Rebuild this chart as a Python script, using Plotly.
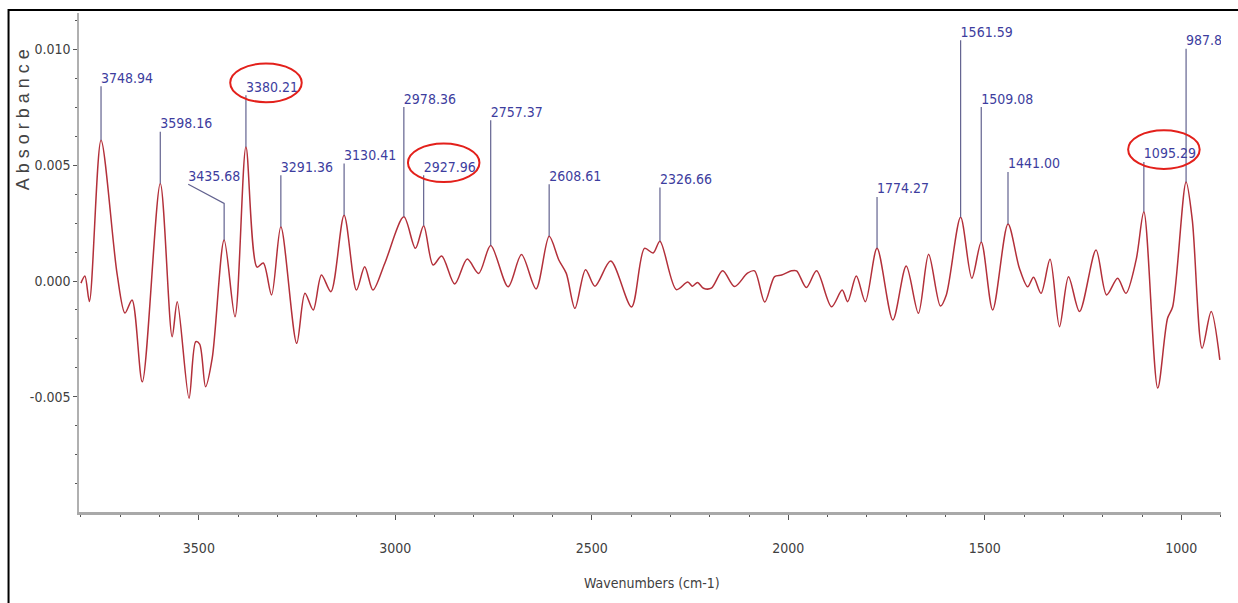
import plotly.graph_objects as go

# ---------------- data ----------------
wavenumber = [3800, 3790, 3778.5, 3748.94, 3708, 3688, 3670, 3644, 3598.16, 3568,
              3555, 3525, 3508, 3498, 3483, 3466, 3435.68, 3408, 3380.21, 3352,
              3336, 3315, 3291.36, 3251, 3230, 3209, 3188, 3164, 3130.41, 3099,
              3078, 3057, 3027, 2978.36, 2949, 2927.96, 2904, 2882, 2849, 2817,
              2788, 2757.37, 2713, 2679, 2642, 2608.61, 2584, 2565, 2543, 2516,
              2492, 2452, 2399, 2366, 2344, 2326.66, 2285, 2256, 2244, 2231,
              2216, 2196, 2167, 2137, 2104, 2086, 2060, 2035, 2017, 1992,
              1979, 1954, 1928, 1890, 1863, 1849, 1827, 1804, 1774.27, 1734,
              1700, 1669, 1643, 1613, 1598, 1561.59, 1533, 1509.08, 1480, 1441.00,
              1412, 1391, 1376, 1357, 1334, 1310, 1287, 1259, 1217, 1190,
              1162, 1141, 1115, 1095.29, 1060, 1035, 1022, 987.85, 972, 947,
              924, 902]

absorbance = [-0.00009, 0.00022, -0.00088, 0.00608, 0.00030, -0.00138, -0.00082, -0.00435, 0.00421, -0.00240,
              -0.00089, -0.00506, -0.00262, -0.00272, -0.00456, -0.00333, 0.00177, -0.00154, 0.00579, 0.00060,
              0.00078, -0.00060, 0.00234, -0.00269, -0.00053, -0.00125, 0.00026, -0.00046, 0.00284, -0.00039,
              0.00062, -0.00039, 0.00076, 0.00277, 0.00141, 0.00239, 0.00069, 0.00108, -0.00013, 0.00095,
              0.00033, 0.00153, -0.00025, 0.00114, -0.00034, 0.00193, 0.00091, 0.00033, -0.00118, 0.00049,
              -0.00022, 0.00086, -0.00112, 0.00141, 0.00121, 0.00172, -0.00037, -0.00004, -0.00022, -0.00006,
              -0.00031, -0.00031, 0.00044, -0.00024, 0.00034, 0.00044, -0.00091, 0.00019, 0.00026, 0.00044,
              0.00044, -0.00028, 0.00044, -0.00111, -0.00039, -0.00089, 0.00022, -0.00089, 0.00141, -0.00168,
              0.00065, -0.00139, 0.00116, -0.00108, -0.00060, 0.00275, 0.00012, 0.00169, -0.00125, 0.00246,
              0.00055, -0.00025, 0.00016, -0.00053, 0.00094, -0.00197, 0.00019, -0.00132, 0.00134, -0.00060,
              0.00012, -0.00053, 0.00091, 0.00299, -0.00462, -0.00161, -0.00111, 0.00428, 0.00263, -0.00290,
              -0.00132, -0.00340]

peak_wn = [3748.94, 3598.16, 3435.68, 3380.21, 3291.36, 3130.41, 2978.36, 2927.96,
           2757.37, 2608.61, 2326.66, 1774.27, 1561.59, 1509.08, 1441.00, 1095.29, 987.85]
peak_labels = ["3748.94", "3598.16", "3435.68", "3380.21", "3291.36", "3130.41", "2978.36", "2927.96",
               "2757.37", "2608.61", "2326.66", "1774.27", "1561.59", "1509.08", "1441.00", "1095.29", "987.85"]
circled = ["3380.21", "2927.96", "1095.29"]

# ---------------- layout helpers (positions of the labels) ----------------
label_top = [0.00841, 0.00644, 0.00335, 0.00802, 0.00457, 0.00507, 0.00751, 0.00457,
             0.00694, 0.00418, 0.00404, 0.00363, 0.01039, 0.00751, 0.00471, 0.00514, 0.01003]
# label text anchor (x, y) - differs from the stem top only for the bent leader
label_text_x = {"3435.68": 3527}
label_text_y = {"3435.68": 0.00418}

peak_abs = [absorbance[wavenumber.index(w)] for w in peak_wn]

LABEL_BLUE = "#3d3d9e"
STEM = "#62628f"
NARROW = "Liberation Sans Narrow, Arial Narrow, DejaVu Sans Condensed, sans-serif"

fig = go.Figure()

# spectrum
fig.add_trace(go.Scatter(
    x=wavenumber, y=absorbance, mode="lines",
    line=dict(color="#b3303a", width=1.5, shape="spline", smoothing=0.85),
    hoverinfo="skip", showlegend=False))

# leader lines
lx, ly = [], []
for w, a, top, lab in zip(peak_wn, peak_abs, label_top, peak_labels):
    lx += [w, w]
    ly += [a, top]
    if lab in label_text_x:
        lx += [label_text_x[lab]]
        ly += [label_text_y[lab]]
    lx.append(None)
    ly.append(None)
fig.add_trace(go.Scatter(x=lx, y=ly, mode="lines", line=dict(color=STEM, width=1.2),
                         hoverinfo="skip", showlegend=False))

# peak labels (clipped to the plot area like the original)
tx = [label_text_x.get(l, w) for w, l in zip(peak_wn, peak_labels)]
ty = [label_text_y.get(l, t) for t, l in zip(label_top, peak_labels)]
fig.add_trace(go.Scatter(
    x=tx, y=ty, mode="text", text=peak_labels, textposition="top right",
    textfont=dict(family=NARROW, size=14, color=LABEL_BLUE),
    cliponaxis=True, hoverinfo="skip", showlegend=False))

shapes = []
# red ellipses around selected labels
for w, top, lab in zip(peak_wn, label_top, peak_labels):
    if lab in circled:
        shapes.append(dict(type="circle", xref="x", yref="y",
                           x0=w + 40, x1=w - 142, y0=top - 0.0003, y1=top + 0.00137,
                           line=dict(color="#e3201b", width=2)))
# outer frame of the picture
shapes.append(dict(type="rect", xref="paper", yref="paper",
                   x0=-0.0617, x1=1.2, y0=-0.4, y1=1.006,
                   line=dict(color="black", width=2), layer="above"))

fig.update_layout(
    width=1238, height=603,
    margin=dict(l=79, r=17, t=13, b=91),
    paper_bgcolor="white", plot_bgcolor="white",
    shapes=shapes,
    showlegend=False,
    annotations=[
        dict(text="<span style='letter-spacing:5px'>Absorbance</span>",
             xref="paper", yref="paper", x=-0.0495, y=0.792,
             xanchor="center", yanchor="middle", textangle=-90, showarrow=False,
             font=dict(family="Liberation Sans, Arial, sans-serif", size=18, color="#444444")),
        dict(text="Wavenumbers (cm-1)", xref="paper", yref="paper", x=0.5018, y=-0.1423,
             xanchor="center", yanchor="middle", showarrow=False,
             font=dict(family=NARROW, size=14, color="#404040")),
    ],
)

fig.update_xaxes(
    range=[3805, 899], tickvals=[3500, 3000, 2500, 2000, 1500, 1000],
    ticktext=["3500", "3000", "2500", "2000", "1500", "1000"],
    showgrid=False, zeroline=False,
    showline=True, linecolor="#a9a9a9", linewidth=3,
    ticks="outside", ticklen=5, tickcolor="#555555", tickwidth=1,
    minor=dict(dtick=100, tick0=1000, ticks="outside", ticklen=2, tickcolor="#555555", showgrid=False),
    tickfont=dict(family=NARROW, size=14, color="#404040"),
    ticklabelstandoff=16,
)
fig.update_yaxes(
    range=[-0.00997, 0.01157], tickvals=[-0.005, 0.0, 0.005, 0.010],
    ticktext=["-0.005", "0.000", "0.005", "0.010"],
    showgrid=False, zeroline=False,
    showline=True, linecolor="#b0b0b0", linewidth=1.5,
    ticks="outside", ticklen=4, tickcolor="#555555", tickwidth=1,
    minor=dict(dtick=0.00125, tick0=0, ticks="outside", ticklen=2, tickcolor="#555555", showgrid=False),
    tickfont=dict(family=NARROW, size=14, color="#404040"),
)

fig.write_html("out.html", config={"displayModeBar": False},
               post_script="document.body.style.margin='0px';document.body.style.overflow='hidden';")
